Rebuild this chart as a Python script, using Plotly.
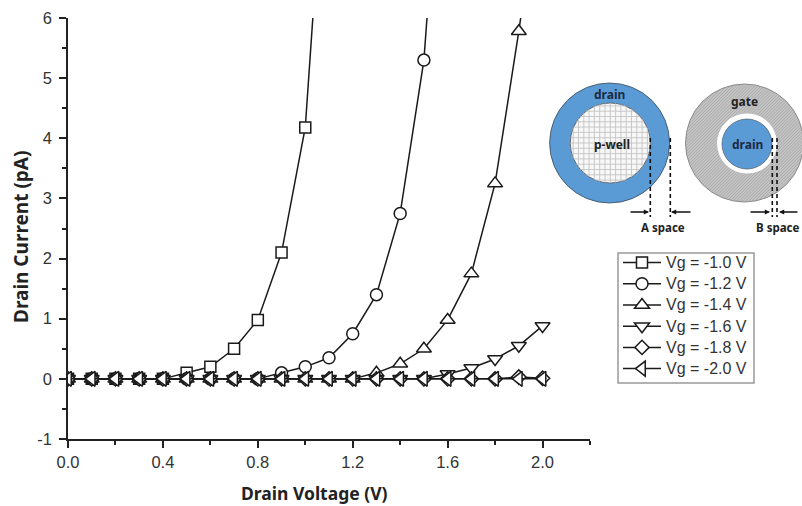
import math
import plotly.graph_objects as go

W, H = 802, 506
L, R, T, B = 68, 590, 18, 439

voltage = [round(i * 0.1, 1) for i in range(21)]
vg_10 = [0, 0, 0, 0, 0, 0.1, 0.2, 0.5, 0.98, 2.1, 4.18, 9.9]
vg_12 = [0, 0, 0, 0, 0, 0, 0, 0, 0, 0.1, 0.2, 0.35, 0.75, 1.4, 2.75, 5.3, 10.7]
vg_14 = [0, 0, 0, 0, 0, 0, 0, 0, 0, 0, 0, 0, 0, 0.1, 0.25, 0.5, 0.98, 1.75, 3.25, 5.78, 8.6]
vg_16 = [0, 0, 0, 0, 0, 0, 0, 0, 0, 0, 0, 0, 0, 0, 0, 0, 0.08, 0.18, 0.33, 0.55, 0.88]
vg_18 = [0, 0, 0, 0, 0, 0, 0, 0, 0, 0, 0, 0, 0, 0, 0, 0, 0, 0, 0, 0.03, 0.01]
vg_20 = [0] * 21
names = ["Vg = -1.0 V", "Vg = -1.2 V", "Vg = -1.4 V", "Vg = -1.6 V", "Vg = -1.8 V", "Vg = -2.0 V"]
symbols = ["square", "circle", "triangle-up", "triangle-down", "diamond", "triangle-left"]
sizes = [11, 12, 13, 13, 11, 13]
series = [vg_10, vg_12, vg_14, vg_16, vg_18, vg_20]

fig = go.Figure()
for name, sym, size, vals in zip(names, symbols, sizes, series):
    fig.add_trace(go.Scatter(
        x=voltage[:len(vals)], y=vals, name=f'<span style="font-size:16px">{name}</span>', mode="lines+markers",
        line=dict(color="#1a1a1a", width=1.5),
        marker=dict(symbol=sym, size=size, color="white",
                    line=dict(color="#1a1a1a", width=1.5)),
    ))


def px(x):
    return (x - L) / (R - L)


def py(y):
    return (B - y) / (B - T)


def circle(cx, cy, r, fill, line="rgba(0,0,0,0)", width=0):
    return dict(type="circle", xref="paper", yref="paper", x0=px(cx - r), x1=px(cx + r),
                y0=py(cy + r), y1=py(cy - r), fillcolor=fill, line=dict(color=line, width=width), layer="above")


def seg(x0, y0, x1, y1, color="#111", width=1.4, dash="solid"):
    return dict(type="line", xref="paper", yref="paper", x0=px(x0), x1=px(x1), y0=py(y0), y1=py(y1),
                line=dict(color=color, width=width, dash=dash), layer="above")


def path_of(lines):
    return " ".join(f"M{px(a):.5f},{py(b):.5f} L{px(c):.5f},{py(d):.5f}" for a, b, c, d in lines)


shapes = []
# legend frame
shapes.append(dict(type="rect", xref="paper", yref="paper", x0=px(618), x1=px(754), y0=py(383), y1=py(253),
                   line=dict(color="#999", width=1.5), fillcolor="white", layer="above"))
# left schematic
shapes.append(circle(609.6, 143, 60, "#5b9bd5", "#3a4a5a", 0.8))
shapes.append(circle(610.3, 143, 40, "#f8f8f8", "#555", 0.8))
grid = []
for k in range(-13, 14):
    d = k * 5.3
    if abs(d) < 40:
        h = math.sqrt(40 ** 2 - d ** 2)
        grid.append((610.3 + d, 143 - h, 610.3 + d, 143 + h))
        grid.append((610.3 - h, 143 + d, 610.3 + h, 143 + d))
shapes.append(dict(type="path", xref="paper", yref="paper", path=path_of(grid),
                   line=dict(color="#c4c4c4", width=0.9), layer="above"))
# right schematic
shapes.append(circle(744.5, 143, 59, "#c4c4c4", "#777", 0.8))
hatch = []
for k in range(-30, 31):
    d = k * 2.2
    if abs(d) < 59:
        h = math.sqrt(59 ** 2 - d ** 2)
        s = math.sqrt(0.5)
        hatch.append((744.5 + d * s - h * s, 143 + d * s + h * s, 744.5 + d * s + h * s, 143 + d * s - h * s))
shapes.append(dict(type="path", xref="paper", yref="paper", path=path_of(hatch),
                   line=dict(color="#999", width=0.6), layer="above"))
shapes.append(circle(747, 143.5, 30, "white"))
shapes.append(circle(747, 144, 25, "#5b9bd5", "#3a4a5a", 0.6))
# dashed guides
for xd, y0 in [(650.3, 138), (670.3, 138), (772.3, 138), (777, 138)]:
    shapes.append(seg(xd, y0, xd, 217, dash="4px,3px", width=1.6))
# arrows
annos = []
for tail, head in [(629, 649), (692, 671), (749, 770), (799, 779)]:
    annos.append(dict(x=px(head), y=py(212), xref="paper", yref="paper",
                      axref="pixel", ayref="pixel", ax=tail - head, ay=0, text="", showarrow=True, arrowhead=2,
                      arrowsize=0.8, arrowwidth=1.3, arrowcolor="#111"))
for txt, x, y, size, color in [
    ("drain", 609, 94, 12, "#1c2a44"), ("p-well", 612, 144, 12, "#222"),
    ("gate", 744, 101, 12, "#222"), ("drain", 747, 144, 12, "#1c2a44"),
    ("A space", 663, 227, 11.5, "#222"), ("B space", 778, 227, 11.5, "#222"),
]:
    annos.append(dict(x=px(x), y=py(y), xref="paper", yref="paper", xanchor="center", yanchor="middle",
                      text=f"<b>{txt}</b>", showarrow=False,
                      font=dict(family="Noto Sans", size=size, color=color)))
# axis titles placed where the reference has them
annos.append(dict(x=px(314), y=py(493), xref="paper", yref="paper", xanchor="center", yanchor="middle",
                  text="<b>Drain Voltage (V)</b>", showarrow=False,
                  font=dict(family="Noto Sans", size=17.5, color="#222")))
annos.append(dict(x=px(21), y=py(237), xref="paper", yref="paper", xanchor="center", yanchor="middle", textangle=-90,
                  text="<b>Drain Current (pA)</b>", showarrow=False,
                  font=dict(family="Noto Sans", size=19, color="#222")))

fig.update_layout(
    width=W, height=H, autosize=False, paper_bgcolor="white", plot_bgcolor="white",
    margin=dict(l=L, r=W - R, t=T, b=H - B),
    font=dict(family="Liberation Sans", size=16.5, color="#333"),
    shapes=shapes, annotations=annos,
    legend=dict(x=px(618), y=py(247), xanchor="left", yanchor="top", bgcolor="rgba(0,0,0,0)",
                borderwidth=0, font=dict(family="Liberation Sans", size=14, color="#333"),
                itemwidth=38, tracegroupgap=0),
    xaxis=dict(range=[0, 2.2], tickvals=[0, 0.4, 0.8, 1.2, 1.6, 2.0], ticktext=["0.0", "0.4", "0.8", "1.2", "1.6", "2.0"],
               ticks="outside", ticklen=7, tickwidth=1.5, tickcolor="#222", showline=True, linecolor="#222", linewidth=1.5,
               showgrid=False, zeroline=False, automargin=False,
               minor=dict(tickvals=[0.2, 0.6, 1.0, 1.4, 1.8, 2.2], ticks="outside", ticklen=4, tickwidth=1.5, tickcolor="#222")),
    yaxis=dict(range=[-1, 6], tickvals=list(range(-1, 7)), ticktext=["-1", "0", "1", "2", "3", "4", "5", "6"],
               ticks="outside", ticklen=7, tickwidth=1.5, tickcolor="#222", ticklabelstandoff=4,
               showline=True, linecolor="#222", linewidth=1.5, showgrid=False, zeroline=False, automargin=False,
               minor=dict(tickvals=[-0.5 + i for i in range(7)], ticks="outside", ticklen=4, tickwidth=1.5, tickcolor="#222")),
)
fig.write_html("out.html", config=dict(displayModeBar=False),
               post_script="document.body.style.margin='0';document.body.style.overflow='hidden';")
